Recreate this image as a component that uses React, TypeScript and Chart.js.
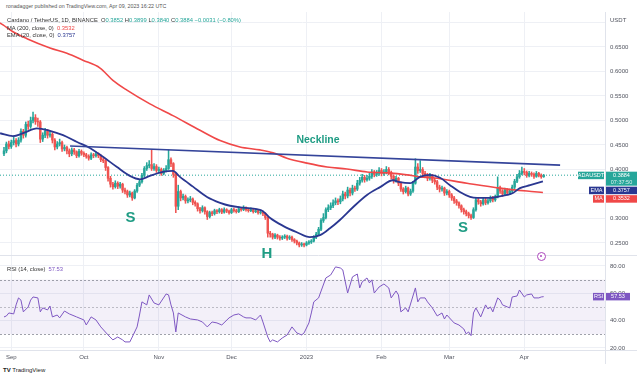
import React, { useEffect, useRef } from 'react';
import { Chart, registerables } from 'chart.js';
Chart.register(...registerables);

// ---------- data (day index 0 = 2022-08-29) ----------
const firstOpen = 0.432;
const closes = [
  0.438, 0.452, 0.447, 0.455, 0.459, 0.452, 0.46, 0.478, 0.47, 0.492,
  0.488, 0.5, 0.506, 0.498, 0.497, 0.462, 0.47, 0.478, 0.47, 0.472,
  0.46, 0.446, 0.452, 0.455, 0.442, 0.445, 0.438, 0.432, 0.44, 0.436,
  0.428, 0.437, 0.433, 0.43, 0.427, 0.423, 0.43, 0.428, 0.432, 0.428,
  0.42, 0.418, 0.404, 0.382, 0.37, 0.365, 0.372, 0.366, 0.37, 0.358,
  0.355, 0.348, 0.352, 0.342, 0.356, 0.368, 0.375, 0.388, 0.402, 0.408,
  0.41, 0.402, 0.406, 0.398, 0.4, 0.392, 0.398, 0.402, 0.42, 0.412,
  0.39, 0.325, 0.355, 0.342, 0.345, 0.336, 0.338, 0.34, 0.333, 0.33,
  0.32, 0.316, 0.322, 0.314, 0.304, 0.312, 0.31, 0.316, 0.314, 0.318,
  0.313, 0.318, 0.315, 0.312, 0.318, 0.316, 0.314, 0.32, 0.318, 0.322,
  0.318, 0.316, 0.318, 0.314, 0.316, 0.312, 0.313, 0.31, 0.302, 0.27,
  0.268, 0.262, 0.266, 0.262, 0.26, 0.262, 0.264, 0.26, 0.262, 0.257,
  0.254, 0.25, 0.246, 0.248, 0.246, 0.25, 0.252, 0.254, 0.262, 0.268,
  0.278, 0.296, 0.302, 0.318, 0.322, 0.326, 0.332, 0.336, 0.334, 0.34,
  0.35, 0.346, 0.358, 0.352, 0.362, 0.36, 0.372, 0.378, 0.384, 0.379,
  0.382, 0.386, 0.395, 0.39, 0.392, 0.398, 0.392, 0.395, 0.4, 0.394,
  0.386, 0.378, 0.382, 0.372, 0.36, 0.355, 0.362, 0.35, 0.356, 0.372,
  0.405, 0.398, 0.4, 0.392, 0.388, 0.382, 0.388, 0.378, 0.375, 0.364,
  0.36, 0.362, 0.352, 0.355, 0.348, 0.342, 0.336, 0.332, 0.326, 0.318,
  0.314, 0.31, 0.306, 0.302, 0.318, 0.338, 0.334, 0.33, 0.338, 0.332,
  0.336, 0.342, 0.338, 0.344, 0.362, 0.356, 0.35, 0.358, 0.352, 0.356,
  0.364, 0.376, 0.385, 0.392, 0.396, 0.394, 0.388, 0.392, 0.39, 0.386,
  0.392, 0.388, 0.3852, 0.3884,
];
const highs = [
  0.445, 0.456, 0.458, 0.46, 0.466, 0.463, 0.465, 0.483, 0.482, 0.497,
  0.499, 0.507, 0.517, 0.512, 0.505, 0.5, 0.475, 0.484, 0.482, 0.478,
  0.475, 0.463, 0.457, 0.462, 0.458, 0.45, 0.448, 0.442, 0.444, 0.443,
  0.438, 0.441, 0.44, 0.436, 0.433, 0.43, 0.434, 0.433, 0.436, 0.434,
  0.43, 0.424, 0.42, 0.406, 0.386, 0.374, 0.377, 0.375, 0.374, 0.372,
  0.362, 0.358, 0.356, 0.354, 0.359, 0.372, 0.38, 0.392, 0.406, 0.414,
  0.418, 0.44, 0.412, 0.41, 0.405, 0.403, 0.402, 0.408, 0.44, 0.424,
  0.414, 0.392, 0.368, 0.358, 0.35, 0.348, 0.342, 0.345, 0.342, 0.336,
  0.332, 0.323, 0.326, 0.324, 0.316, 0.315, 0.315, 0.319, 0.318, 0.321,
  0.32, 0.322, 0.32, 0.317, 0.321, 0.321, 0.319, 0.324, 0.323, 0.326,
  0.324, 0.32, 0.322, 0.32, 0.319, 0.318, 0.316, 0.315, 0.312, 0.304,
  0.274, 0.27, 0.269, 0.268, 0.265, 0.265, 0.267, 0.266, 0.265, 0.264,
  0.259, 0.256, 0.252, 0.251, 0.25, 0.253, 0.255, 0.257, 0.265, 0.272,
  0.282, 0.3, 0.31, 0.322, 0.328, 0.332, 0.338, 0.342, 0.34, 0.346,
  0.356, 0.354, 0.364, 0.362, 0.368, 0.366, 0.378, 0.384, 0.39, 0.388,
  0.388, 0.392, 0.4, 0.398, 0.398, 0.404, 0.402, 0.4, 0.406, 0.404,
  0.397, 0.389, 0.386, 0.384, 0.375, 0.363, 0.366, 0.364, 0.36, 0.376,
  0.422, 0.412, 0.418, 0.404, 0.396, 0.392, 0.392, 0.39, 0.382, 0.378,
  0.368, 0.366, 0.364, 0.359, 0.358, 0.351, 0.345, 0.339, 0.334, 0.328,
  0.321, 0.317, 0.313, 0.309, 0.322, 0.342, 0.342, 0.337, 0.342, 0.341,
  0.34, 0.346, 0.345, 0.348, 0.385, 0.366, 0.359, 0.362, 0.361, 0.36,
  0.368, 0.38, 0.39, 0.398, 0.405, 0.402, 0.397, 0.396, 0.395, 0.393,
  0.396, 0.394, 0.391, 0.3899,
];
const lows = [
  0.428, 0.434, 0.442, 0.443, 0.45, 0.446, 0.448, 0.456, 0.464, 0.466,
  0.482, 0.484, 0.495, 0.492, 0.488, 0.455, 0.457, 0.465, 0.464, 0.466,
  0.454, 0.44, 0.442, 0.448, 0.437, 0.438, 0.432, 0.426, 0.428, 0.431,
  0.424, 0.425, 0.429, 0.426, 0.423, 0.419, 0.42, 0.424, 0.425, 0.424,
  0.416, 0.414, 0.398, 0.376, 0.364, 0.36, 0.362, 0.361, 0.362, 0.353,
  0.35, 0.343, 0.344, 0.337, 0.34, 0.353, 0.365, 0.372, 0.385, 0.398,
  0.403, 0.398, 0.398, 0.394, 0.393, 0.388, 0.389, 0.395, 0.4, 0.406,
  0.384, 0.312, 0.318, 0.336, 0.338, 0.331, 0.332, 0.334, 0.328, 0.325,
  0.315, 0.311, 0.313, 0.309, 0.298, 0.301, 0.306, 0.307, 0.31, 0.311,
  0.31, 0.311, 0.312, 0.309, 0.31, 0.313, 0.311, 0.312, 0.315, 0.316,
  0.315, 0.313, 0.314, 0.311, 0.312, 0.309, 0.309, 0.306, 0.298, 0.262,
  0.262, 0.258, 0.259, 0.258, 0.256, 0.257, 0.259, 0.256, 0.257, 0.253,
  0.25, 0.246, 0.242, 0.243, 0.242, 0.244, 0.247, 0.249, 0.252, 0.259,
  0.265, 0.275, 0.292, 0.299, 0.314, 0.318, 0.322, 0.328, 0.328, 0.33,
  0.336, 0.34, 0.342, 0.346, 0.348, 0.355, 0.357, 0.368, 0.374, 0.374,
  0.376, 0.378, 0.382, 0.385, 0.386, 0.388, 0.387, 0.388, 0.391, 0.389,
  0.381, 0.372, 0.374, 0.367, 0.355, 0.35, 0.352, 0.346, 0.347, 0.353,
  0.37, 0.392, 0.394, 0.387, 0.383, 0.377, 0.378, 0.373, 0.37, 0.359,
  0.354, 0.356, 0.347, 0.348, 0.343, 0.337, 0.331, 0.327, 0.321, 0.313,
  0.309, 0.305, 0.301, 0.298, 0.3, 0.315, 0.329, 0.325, 0.327, 0.328,
  0.329, 0.333, 0.334, 0.335, 0.342, 0.351, 0.345, 0.347, 0.348, 0.349,
  0.353, 0.361, 0.373, 0.382, 0.389, 0.389, 0.384, 0.385, 0.386, 0.382,
  0.384, 0.385, 0.382, 0.384,
];

const emaDays = [-1.6, 3.7, 7.9, 13.6, 19, 24.4, 30.2, 35.5, 40.9, 46.7, 52, 56.2, 60.3, 65.7, 69.8, 72.7, 78.1, 83.9, 89.3, 93.4, 98.8, 104.5, 107, 110, 115.3, 121, 126.4, 130.6, 134.7, 138.8, 144.2, 150, 155.4, 160.7, 163.6, 167.8, 171.9, 176, 180.2, 184.3, 188.4, 192.6, 195.5, 200.8, 203.7, 207.9, 210.3, 213.2, 217.4, 222.7];
const emaVals = [0.474, 0.468, 0.474, 0.484, 0.479, 0.47, 0.456, 0.444, 0.426, 0.405, 0.387, 0.38, 0.387, 0.395, 0.397, 0.385, 0.365, 0.344, 0.332, 0.326, 0.322, 0.319, 0.315, 0.301, 0.285, 0.272, 0.262, 0.266, 0.28, 0.297, 0.323, 0.348, 0.364, 0.378, 0.374, 0.372, 0.385, 0.389, 0.383, 0.368, 0.354, 0.344, 0.342, 0.342, 0.344, 0.348, 0.352, 0.362, 0.368, 0.3757];

const maDays = [-1.65, -0.4, 3.7, 9.5, 19, 26, 32.6, 39.7, 45, 50.8, 60.3, 69.8, 81, 89.3, 97.5, 105.8, 111.2, 116.9, 125.2, 133.5, 141.7, 150, 158.3, 166.5, 171.9, 177.3, 191.3, 205, 216.1, 222.7];
const maVals = [0.699, 0.695, 0.681, 0.667, 0.648, 0.637, 0.623, 0.607, 0.582, 0.562, 0.534, 0.51, 0.48, 0.459, 0.446, 0.44, 0.434, 0.423, 0.413, 0.405, 0.401, 0.395, 0.393, 0.389, 0.385, 0.383, 0.372, 0.362, 0.356, 0.3532];

const rsiDays = [0, 1, 2, 4, 5, 6, 7, 8, 10, 11, 12, 14, 15, 16, 18, 19, 20, 22, 23, 25, 27, 30, 33, 34, 36, 38, 40, 43, 45, 47, 49, 50, 52, 53, 55, 56, 57, 59, 60, 62, 64, 67, 68, 69, 70, 71, 72, 75, 77, 80, 82, 84, 86, 88, 90, 93, 95, 97, 99, 100, 102, 104, 106, 107, 109, 110, 111, 113, 115, 117, 119, 121, 123, 124, 126, 127, 128, 130, 133, 135, 137, 139, 140, 142, 144, 146, 147, 148, 150, 151, 152, 153, 155, 157, 159, 160, 162, 163, 164, 166, 167, 170, 171, 172, 174, 175, 177, 179, 181, 182, 183, 186, 188, 190, 191, 192, 193, 194, 195, 197, 199, 200, 201, 202, 204, 205, 206, 208, 209, 210, 212, 213, 215, 216, 218, 219, 221, 222, 223];
const rsiVals = [42.7, 43.4, 45.6, 44.9, 51.5, 56.6, 55, 46.4, 50, 55, 57.3, 56.6, 46.4, 49.3, 47.8, 50.7, 42.7, 44.1, 42, 47, 44.9, 42.7, 40.5, 36.8, 42.7, 40.5, 35.4, 29.5, 25.9, 28, 25.9, 24.4, 24.4, 28, 35.4, 44.1, 53.7, 51.5, 58.8, 52.9, 51.5, 59.5, 58.8, 51.5, 45.6, 31.7, 45.6, 42.7, 41.2, 40.5, 39, 35.4, 39, 38.3, 36.8, 42, 44.1, 44.9, 42.7, 42, 42, 40.5, 44.1, 39, 28, 24.4, 25.9, 24.4, 27.3, 29.5, 35.4, 31, 29.5, 31, 38.3, 45.6, 53.7, 56.6, 71.2, 73.4, 79.3, 78.5, 77.1, 60.2, 72, 74.1, 63.9, 68.3, 71.2, 67.6, 69.8, 60.2, 64.6, 66.8, 63.9, 56.6, 61.7, 58.8, 46.4, 49.3, 46.4, 63.9, 53.7, 56.6, 56.6, 53.7, 49.3, 43.4, 45.6, 41.2, 44.1, 38.3, 36.8, 33.9, 30.3, 31.7, 29, 45.6, 49.3, 42.7, 51.5, 48.5, 50, 46.4, 56.6, 55.1, 51.5, 50, 49.3, 57.3, 58, 62.4, 57.3, 58.8, 59.5, 56.6, 56.6, 57.3, 57.53];

const necklineDays = [27.3, 229.8];
const necklineVals = [0.448, 0.409];

const monthDays = [3, 33, 64, 94, 125, 156, 184, 215];
const monthLabels = ['Sep', 'Oct', 'Nov', 'Dec', '2023', 'Feb', 'Mar', 'Apr'];
const priceTicks = [0.25, 0.3, 0.35, 0.4, 0.45, 0.5, 0.55, 0.6, 0.65, 0.7];
const priceLabels = ['0.2500', '0.3000', '', '0.4000', '0.4500', '0.5000', '0.5500', '0.6000', '0.6500', ''];
const rsiTicks = [20, 40, 60, 80];
const rsiLabels = ['20.00', '40.00', '60.00', '80.00'];

const lastPrice = 0.3884;
const lastEma = 0.3757;
const lastMa = 0.3532;
const lastRsi = 57.53;

// ---------- styling ----------
const FONT = '"Liberation Sans", Arial, sans-serif';
const UP = '#26a69a';
const DOWN = '#ef5350';
const EMA_C = '#2a3791';
const MA_C = '#f04848';
const NECK_C = '#34449a';
const RSI_C = '#7e57c2';
const GRID = '#eef0f5';
const TEXT = '#50535e';
const ANNO = '#1f9c84';
const X_MIN = -1.65;
const X_MAX = 248.35;
const AXIS_W = 32;

function box(ctx: CanvasRenderingContext2D, x: number, y: number, w: number, h: number, color: string) {
  ctx.fillStyle = color;
  ctx.fillRect(x, y, w, h);
}
function centerText(ctx: CanvasRenderingContext2D, t: string, x: number, y: number, color: string, font: string) {
  ctx.fillStyle = color;
  ctx.font = font;
  ctx.textAlign = 'center';
  ctx.textBaseline = 'middle';
  ctx.fillText(t, x, y);
}

function xScaleCfg(h: number) {
  return {
    type: 'linear' as const,
    min: X_MIN,
    max: X_MAX,
    offset: false,
    afterBuildTicks: (s: any) => { s.ticks = monthDays.map((v) => ({ value: v })); },
    ticks: { display: false },
    grid: { color: GRID, drawTicks: false, offset: false },
    border: { display: false },
    afterFit: (s: any) => { s.height = h; },
  };
}

const pricePlugin = {
  id: 'priceOverlay',
  afterDraw(chart: any) {
    const { ctx, chartArea: a, scales } = chart;
    const y = scales.y;
    ctx.save();
    ctx.strokeStyle = '#e0e3eb';
    ctx.lineWidth = 1;
    ctx.beginPath();
    ctx.moveTo(a.right + 0.5, 0);
    ctx.lineTo(a.right + 0.5, chart.height);
    ctx.stroke();
    ctx.fillStyle = TEXT;
    ctx.font = '6px ' + FONT;
    ctx.textAlign = 'left';
    ctx.textBaseline = 'middle';
    priceTicks.forEach((t, i) => {
      if (priceLabels[i]) ctx.fillText(priceLabels[i], a.right + 5, y.getPixelForValue(t));
    });
    ctx.fillText('USDT', a.right + 5, 8);

    const tagFont = '5.5px ' + FONT;
    const vx = a.right + 1;
    const vw = 31;
    // last price tag
    const pTop = y.getPixelForValue(lastPrice) - 3.5;
    box(ctx, vx, pTop, vw, 14, UP);
    centerText(ctx, lastPrice.toFixed(4), vx + vw / 2, pTop + 3.7, '#fff', tagFont);
    centerText(ctx, '07:37:50', vx + vw / 2, pTop + 10.4, 'rgba(255,255,255,0.85)', tagFont);
    box(ctx, a.right - 27, pTop, 26, 7.5, UP);
    centerText(ctx, 'ADAUSDT', a.right - 14, pTop + 3.8, '#fff', tagFont);
    // EMA tag
    const eTop = Math.max(y.getPixelForValue(lastEma) - 3.5, pTop + 15);
    box(ctx, vx, eTop, vw, 7.5, EMA_C);
    centerText(ctx, lastEma.toFixed(4), vx + vw / 2, eTop + 3.8, '#fff', tagFont);
    box(ctx, a.right - 16, eTop, 15, 7.5, EMA_C);
    centerText(ctx, 'EMA', a.right - 8.5, eTop + 3.8, '#fff', tagFont);
    // MA tag
    const mTop = Math.max(y.getPixelForValue(lastMa) - 3.5, eTop + 8.5);
    box(ctx, vx, mTop, vw, 7.5, MA_C);
    centerText(ctx, lastMa.toFixed(4), vx + vw / 2, mTop + 3.8, '#fff', tagFont);
    box(ctx, a.right - 12, mTop, 11, 7.5, MA_C);
    centerText(ctx, 'MA', a.right - 6.5, mTop + 3.8, '#fff', tagFont);
    ctx.restore();
  },
};

const rsiPlugin = {
  id: 'rsiOverlay',
  beforeDatasetsDraw(chart: any) {
    const { ctx, chartArea: a, scales } = chart;
    const y = scales.y;
    ctx.save();
    const y70 = y.getPixelForValue(70);
    const y30 = y.getPixelForValue(30);
    ctx.fillStyle = 'rgba(126,87,194,0.09)';
    ctx.fillRect(a.left, y70, a.right - a.left, y30 - y70);
    ctx.lineWidth = 1;
    ctx.setLineDash([2, 2]);
    [70, 50, 30].forEach((v) => {
      const yy = Math.round(y.getPixelForValue(v)) + 0.5;
      ctx.strokeStyle = v === 50 ? 'rgba(120,123,134,0.45)' : 'rgba(120,123,134,0.7)';
      ctx.beginPath();
      ctx.moveTo(a.left, yy);
      ctx.lineTo(a.right, yy);
      ctx.stroke();
    });
    ctx.restore();
  },
  afterDraw(chart: any) {
    const { ctx, chartArea: a, scales } = chart;
    const y = scales.y;
    const x = scales.x;
    ctx.save();
    ctx.strokeStyle = '#e0e3eb';
    ctx.lineWidth = 1;
    ctx.beginPath();
    ctx.moveTo(0, 0.5);
    ctx.lineTo(chart.width, 0.5);
    ctx.moveTo(0, a.bottom + 0.5);
    ctx.lineTo(chart.width, a.bottom + 0.5);
    ctx.moveTo(a.right + 0.5, 0);
    ctx.lineTo(a.right + 0.5, chart.height);
    ctx.stroke();
    ctx.fillStyle = TEXT;
    ctx.font = '6px ' + FONT;
    ctx.textAlign = 'left';
    ctx.textBaseline = 'middle';
    rsiTicks.forEach((t, i) => ctx.fillText(rsiLabels[i], a.right + 5, y.getPixelForValue(t)));
    ctx.textAlign = 'center';
    monthDays.forEach((d, i) => ctx.fillText(monthLabels[i], x.getPixelForValue(d), a.bottom + 7));
    // RSI tag
    const rTop = y.getPixelForValue(lastRsi) - 3.75;
    const tagFont = '5.5px ' + FONT;
    box(ctx, a.right + 1, rTop, 24, 7.5, RSI_C);
    centerText(ctx, lastRsi.toFixed(2), a.right + 13, rTop + 3.8, '#fff', tagFont);
    box(ctx, a.right - 12, rTop, 11, 7.5, RSI_C);
    centerText(ctx, 'RSI', a.right - 6.5, rTop + 3.8, '#fff', tagFont);
    ctx.restore();
  },
};

export default function App() {
  const priceRef = useRef<HTMLCanvasElement>(null);
  const rsiRef = useRef<HTMLCanvasElement>(null);

  useEffect(() => {
    document.body.style.margin = '0';
    const opens = closes.map((c, i) => (i === 0 ? firstOpen : closes[i - 1]));
    const colors = closes.map((c, i) => (c >= opens[i] ? UP : DOWN));
    const bodies = closes.map((c, i) => ({ x: i, y: [opens[i], c] }));
    const wicks = closes.map((c, i) => ({ x: i, y: [lows[i], highs[i]] }));

    const priceChart = new Chart(priceRef.current as HTMLCanvasElement, {
      type: 'bar',
      data: {
        datasets: [
          { type: 'line', data: necklineDays.map((d, i) => ({ x: d, y: necklineVals[i] })), borderColor: NECK_C, borderWidth: 1.6, pointRadius: 0, order: 0 } as any,
          { type: 'line', data: emaDays.map((d, i) => ({ x: d, y: emaVals[i] })), borderColor: EMA_C, borderWidth: 1.8, pointRadius: 0, cubicInterpolationMode: 'monotone', order: 0 } as any,
          { type: 'line', data: maDays.map((d, i) => ({ x: d, y: maVals[i] })), borderColor: MA_C, borderWidth: 1.6, pointRadius: 0, cubicInterpolationMode: 'monotone', order: 0 } as any,
          { type: 'line', data: [{ x: X_MIN, y: lastPrice }, { x: X_MAX, y: lastPrice }], borderColor: UP, borderWidth: 1, borderDash: [1, 2], pointRadius: 0, order: 3 } as any,
          { type: 'bar', data: bodies, backgroundColor: colors, barThickness: 1.8, grouped: false, borderWidth: 0, order: 1 } as any,
          { type: 'bar', data: wicks, backgroundColor: colors, barThickness: 0.9, grouped: false, borderWidth: 0, order: 2 } as any,
        ],
      },
      options: {
        responsive: false,
        animation: false,
        events: [],
        layout: { padding: 0 },
        plugins: { legend: { display: false }, tooltip: { enabled: false } },
        scales: {
          x: xScaleCfg(0) as any,
          y: {
            type: 'linear',
            position: 'right',
            min: 0.2255,
            max: 0.7214,
            afterBuildTicks: (s: any) => { s.ticks = priceTicks.map((v) => ({ value: v })); },
            ticks: { display: false },
            grid: { color: GRID, drawTicks: false },
            border: { display: false },
            afterFit: (s: any) => { s.width = AXIS_W; },
          } as any,
        },
      },
      plugins: [pricePlugin],
    });

    const rsiChart = new Chart(rsiRef.current as HTMLCanvasElement, {
      type: 'line',
      data: {
        datasets: [
          { data: rsiDays.map((d, i) => ({ x: d, y: rsiVals[i] })), borderColor: RSI_C, borderWidth: 1, pointRadius: 0, tension: 0 } as any,
        ],
      },
      options: {
        responsive: false,
        animation: false,
        events: [],
        layout: { padding: 0 },
        plugins: { legend: { display: false }, tooltip: { enabled: false } },
        scales: {
          x: xScaleCfg(14) as any,
          y: {
            type: 'linear',
            position: 'right',
            min: 18.5,
            max: 88,
            afterBuildTicks: (s: any) => { s.ticks = rsiTicks.map((v) => ({ value: v })); },
            ticks: { display: false },
            grid: { color: GRID, drawTicks: false },
            border: { display: false },
            afterFit: (s: any) => { s.width = AXIS_W; },
          } as any,
        },
      },
      plugins: [rsiPlugin],
    });

    return () => {
      priceChart.destroy();
      rsiChart.destroy();
    };
  }, []);

  const abs = (left: number, top: number, extra: any = {}) => ({
    position: 'absolute' as const, left, top, whiteSpace: 'nowrap' as const, ...extra,
  });
  const anno = (cx: number, cy: number, size: number) => ({
    position: 'absolute' as const, left: cx, top: cy, transform: 'translate(-50%,-50%)',
    fontSize: size, fontWeight: 700, color: ANNO, lineHeight: 1, whiteSpace: 'nowrap' as const,
  });

  return (
    <div style={{ position: 'absolute', left: 0, top: 0, width: 644, height: 376, background: '#fff', overflow: 'hidden', fontFamily: FONT }}>
      <canvas ref={priceRef} width={637} height={243} style={{ position: 'absolute', left: 0, top: 12, width: 637, height: 243 }} />
      <canvas ref={rsiRef} width={637} height={109} style={{ position: 'absolute', left: 0, top: 255, width: 637, height: 109 }} />

      <div style={abs(6, 3, { fontSize: 5.3, color: '#555', lineHeight: '7px' })}>
        ronadagger published on TradingView.com, Apr 09, 2023 16:22 UTC
      </div>
      <div style={abs(7, 16.5, { fontSize: 5.8, color: '#333', lineHeight: '7px' })}>
        Cardano / TetherUS, 1D, BINANCE&nbsp;&nbsp;O<span style={{ color: UP }}>0.3852</span> H<span style={{ color: UP }}>0.3899</span> L<span style={{ color: UP }}>0.3840</span> C<span style={{ color: UP }}>0.3884</span> <span style={{ color: UP }}>−0.0031 (−0.80%)</span>
      </div>
      <div style={abs(7, 24.5, { fontSize: 5.8, color: '#333', lineHeight: '7px' })}>
        MA (200, close, 0)&nbsp;&nbsp;<span style={{ color: MA_C }}>0.3532</span>
      </div>
      <div style={abs(7, 32, { fontSize: 5.8, color: '#333', lineHeight: '7px' })}>
        EMA (20, close, 0)&nbsp;&nbsp;<span style={{ color: EMA_C }}>0.3757</span>
      </div>
      <div style={abs(7, 265.5, { fontSize: 5.8, color: '#333', lineHeight: '7px' })}>
        RSI (14, close)&nbsp;&nbsp;<span style={{ color: RSI_C }}>57.53</span>
      </div>

      <div style={anno(318, 139, 10.5)}>Neckline</div>
      <div style={anno(130.5, 216, 15)}>S</div>
      <div style={anno(267, 251.5, 15)}>H</div>
      <div style={anno(463, 226, 15)}>S</div>

      <div style={{ position: 'absolute', left: 536.5, top: 251.5, width: 7, height: 7, borderRadius: '50%', border: '1px solid #ab47bc', background: '#fff' }}>
        <div style={{ position: 'absolute', left: 2.5, top: 2.5, width: 2, height: 2, borderRadius: '50%', background: '#ab47bc' }} />
      </div>

      <div style={abs(3, 366, { fontSize: 6, color: '#222', lineHeight: '8px' })}>
        <b>TV</b> TradingView
      </div>
    </div>
  );
}
